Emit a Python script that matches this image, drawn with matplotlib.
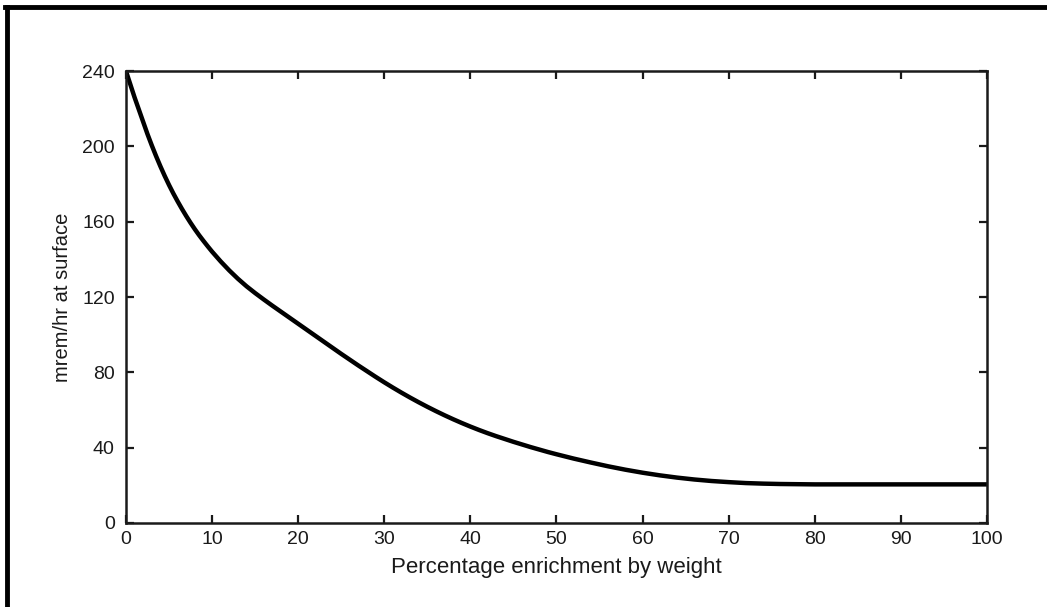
import numpy as np
import matplotlib
matplotlib.use("Agg")
import matplotlib.pyplot as plt
from matplotlib.lines import Line2D

# -------------------------------
# DATA
# -------------------------------
enrichment = [0, 0.5, 1, 1.5, 2, 2.5, 3, 3.5, 4, 4.5, 5, 5.5, 6, 6.5, 7, 7.5,
              8, 8.5, 9, 9.5, 10, 11, 12, 13, 14, 15, 16, 17, 18, 19, 20, 21,
              22, 23, 24, 25, 26, 27, 28, 29, 30, 31, 32, 33, 34, 35, 36, 37,
              38, 39, 40, 41, 42, 43, 44, 45, 46, 47, 48, 49, 50, 52, 54, 56,
              58, 60, 62, 64, 66, 68, 70, 72, 74, 76, 78, 80, 85, 90, 95, 100]
dose_rate = [240, 233, 226, 219.5, 213, 206.5, 200.5, 194.8, 189.4, 184.3,
             179.5, 175, 170.8, 166.8, 163, 159.4, 156, 152.8, 149.8, 146.9,
             144.1, 138.9, 134.1, 129.7, 125.7, 122.1, 118.7, 115.4, 112.2,
             109, 105.8, 102.6, 99.4, 96.2, 93, 89.8, 86.7, 83.6, 80.6, 77.6,
             74.7, 71.9, 69.2, 66.6, 64.1, 61.7, 59.4, 57.2, 55.1, 53.1, 51.2,
             49.4, 47.7, 46.1, 44.6, 43.1, 41.7, 40.3, 39, 37.7, 36.5, 34.2,
             32.1, 30.1, 28.3, 26.7, 25.3, 24.1, 23.1, 22.3, 21.7, 21.2, 20.9,
             20.7, 20.6, 20.5, 20.5, 20.5, 20.5, 20.5]

x_ticks = [0, 10, 20, 30, 40, 50, 60, 70, 80, 90, 100]
y_ticks = [0, 40, 80, 120, 160, 200, 240]

plt.rcParams['font.family'] = ['Liberation Sans', 'DejaVu Sans']

fig = plt.figure(figsize=(10.47, 6.07), dpi=100)
ax = fig.add_axes([0.1203, 0.1384, 0.8224, 0.7446])

ax.plot(enrichment, dose_rate, color='black', lw=3.2,
        solid_capstyle='round', solid_joinstyle='round')

ax.set_xlim(0, 100)
ax.set_ylim(0, 240)
ax.set_xticks(x_ticks)
ax.set_yticks(y_ticks)
ax.tick_params(direction='in', length=6, width=1.6, labelsize=14,
               top=True, right=True, colors='#1a1a1a')
ax.tick_params(axis='y', pad=8)
ax.tick_params(axis='x', pad=6)
for s in ax.spines.values():
    s.set_linewidth(1.8)
    s.set_color('#1a1a1a')

ax.set_xlabel("Percentage enrichment by weight", fontsize=16, labelpad=6,
              color='#1a1a1a')
ax.set_ylabel("mrem/hr at surface", fontsize=14.5, labelpad=7,
              color='#1a1a1a')

# scanned page frame (left and top edges only)
fig.add_artist(Line2D([0.0067, 0.0067], [0.0, 0.9885], color='black', lw=3.5,
                      transform=fig.transFigure))
fig.add_artist(Line2D([0.005, 1.0], [0.9885, 0.9885], color='black', lw=3.5,
                      transform=fig.transFigure))

fig.savefig("out.png", dpi=100)
